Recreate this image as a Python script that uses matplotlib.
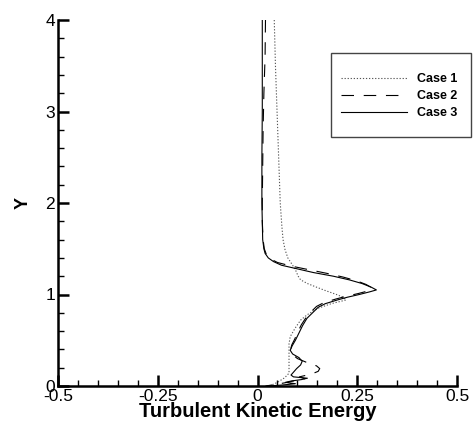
import matplotlib
matplotlib.use("Agg")
import matplotlib.pyplot as plt
from matplotlib.patches import Rectangle
from matplotlib.ticker import MultipleLocator, FixedLocator, FixedFormatter

plt.rcParams['font.family'] = ['Liberation Sans', 'DejaVu Sans']
plt.rcParams['lines.scale_dashes'] = False

# ---- data (TKE vs Y) ----
case1_y = [4.0, 3.5, 3.0, 2.5, 2.0, 1.75, 1.6, 1.49, 1.40, 1.32, 1.26, 1.20, 1.16, 1.12,
           1.08, 1.04, 1.00, 0.97, 0.94, 0.90, 0.85, 0.78, 0.72, 0.63, 0.54, 0.46, 0.39,
           0.30, 0.22, 0.14, 0.09, 0.04, 0.0]
case1_x = [0.042, 0.045, 0.049, 0.053, 0.057, 0.061, 0.064, 0.069, 0.076, 0.088, 0.096,
           0.102, 0.108, 0.125, 0.148, 0.172, 0.198, 0.215, 0.222, 0.185, 0.152, 0.125,
           0.108, 0.094, 0.082, 0.079, 0.079, 0.079, 0.079, 0.079, 0.068, 0.050, 0.030]

case2_y = [4.0, 3.6, 3.2, 2.8, 2.4, 2.0, 1.8, 1.6, 1.5, 1.44, 1.39, 1.35, 1.31, 1.27, 1.23,
           1.19, 1.15, 1.11, 1.07, 1.04, 1.01, 0.98, 0.95, 0.91, 0.87, 0.81, 0.75, 0.67,
           0.59, 0.51, 0.45, 0.40, 0.35, 0.30, 0.26, 0.22, 0.19, 0.16, 0.13, 0.10, 0.08,
           0.06, 0.04, 0.02, 0.0]
case2_x = [0.020, 0.019, 0.016, 0.014, 0.013, 0.012, 0.012, 0.014, 0.017, 0.022, 0.032,
           0.050, 0.085, 0.130, 0.175, 0.215, 0.248, 0.272, 0.288, 0.278, 0.252, 0.222,
           0.196, 0.166, 0.148, 0.134, 0.122, 0.110, 0.101, 0.093, 0.086, 0.083, 0.086,
           0.100, 0.122, 0.148, 0.156, 0.152, 0.135, 0.105, 0.118, 0.095, 0.075, 0.050,
           0.020]

case3_y = [4.0, 3.5, 3.0, 2.5, 2.0, 1.8, 1.6, 1.5, 1.45, 1.40, 1.36, 1.32, 1.28, 1.24,
           1.20, 1.16, 1.12, 1.08, 1.05, 1.03, 1.00, 0.97, 0.94, 0.90, 0.86, 0.80, 0.74,
           0.66, 0.58, 0.50, 0.44, 0.39, 0.35, 0.31, 0.27, 0.23, 0.19, 0.15, 0.12, 0.10,
           0.085, 0.07, 0.055, 0.04, 0.025, 0.01, 0.0]
case3_x = [0.012, 0.012, 0.012, 0.011, 0.011, 0.012, 0.013, 0.016, 0.019, 0.027, 0.040,
           0.060, 0.100, 0.140, 0.190, 0.230, 0.262, 0.285, 0.298, 0.282, 0.255, 0.225,
           0.200, 0.170, 0.152, 0.138, 0.124, 0.113, 0.104, 0.095, 0.087, 0.082, 0.088,
           0.104, 0.112, 0.108, 0.098, 0.090, 0.084, 0.090, 0.125, 0.110, 0.085, 0.070,
           0.095, 0.060, 0.025]

series_labels = ["Case 1", "Case 2", "Case 3"]
x_ticks = [-0.5, -0.25, 0, 0.25, 0.5]
x_tick_labels = ["-0.5", "-0.25", "0", "0.25", "0.5"]
y_ticks = [0, 1, 2, 3, 4]
y_tick_labels = ["0", "1", "2", "3", "4"]

W, H = 473, 424
fig = plt.figure(figsize=(W / 100, H / 100), dpi=100)
ax = fig.add_axes([58 / W, 38 / H, 399 / W, 366 / H])

lw = 0.8
ax.plot(case1_x, case1_y, color='#555555', lw=lw, linestyle=(0, (0.9, 1.3)), label=series_labels[0])
ax.plot(case2_x, case2_y, color='black', lw=lw, linestyle=(0, (9, 7)), label=series_labels[1])
ax.plot(case3_x, case3_y, color='black', lw=lw, linestyle='-', label=series_labels[2])

ax.set_xlim(-0.5, 0.5)
ax.set_ylim(0, 4)
ax.xaxis.set_major_locator(FixedLocator(x_ticks))
ax.xaxis.set_major_formatter(FixedFormatter(x_tick_labels))
ax.yaxis.set_major_locator(FixedLocator(y_ticks))
ax.yaxis.set_major_formatter(FixedFormatter(y_tick_labels))
ax.xaxis.set_minor_locator(MultipleLocator(0.05))
ax.yaxis.set_minor_locator(MultipleLocator(0.2))

for s in ['top', 'right']:
    ax.spines[s].set_visible(False)
for s in ['left', 'bottom']:
    ax.spines[s].set_linewidth(1.8)

ax.tick_params(which='major', direction='in', length=8, width=1.8, labelsize=12.5, pad=2)
ax.tick_params(which='minor', direction='in', length=4, width=1.0)
ax.tick_params(axis='x', which='both', top=False)
ax.tick_params(axis='y', which='both', right=False)

ax.set_xlabel("Turbulent Kinetic Energy", fontsize=14.5, fontweight='bold', labelpad=-1)
ax.set_ylabel("Y", fontsize=13, fontweight='bold', labelpad=10)

# legend
leg = ax.legend(loc='center', bbox_to_anchor=(399.5 / W, 1 - 96 / H),
                bbox_transform=fig.transFigure, frameon=False,
                prop={'weight': 'bold', 'size': 9}, handlelength=5.3,
                handletextpad=0.8, labelspacing=0.4, borderpad=0)
leg.set_clip_on(False)
fig.patches.append(Rectangle((331 / W, 1 - 137 / H), 140 / W, 84 / H,
                             transform=fig.transFigure, fill=False,
                             edgecolor='#444444', linewidth=1.0))

fig.savefig("out.png", dpi=100)
